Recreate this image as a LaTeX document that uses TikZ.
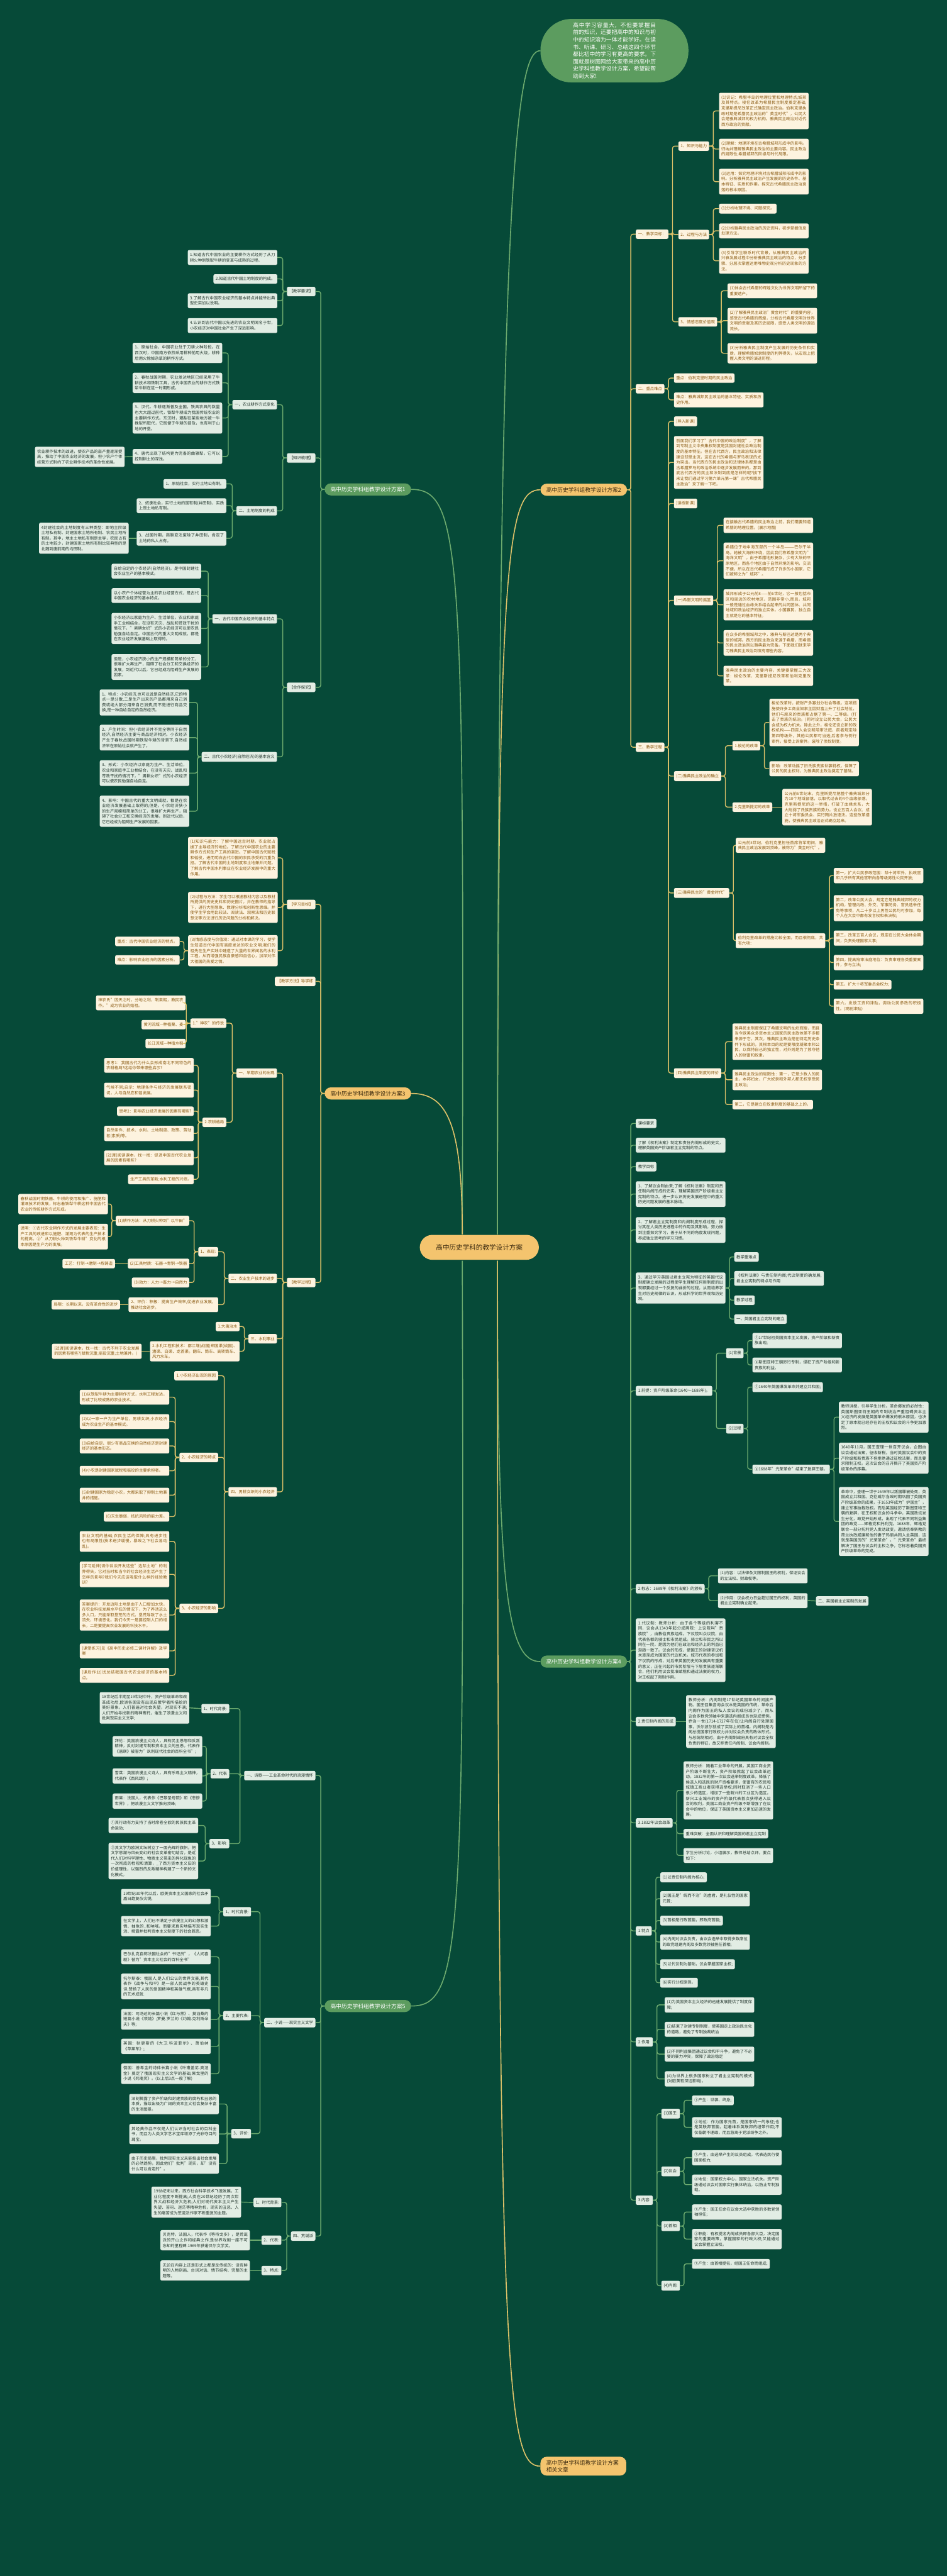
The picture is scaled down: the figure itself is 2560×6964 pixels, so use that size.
\documentclass[tikz,border=0pt]{standalone}
\usepackage{fontspec}
\usetikzlibrary{shadows}
\setmainfont{Noto Sans CJK SC}
\XeTeXlinebreaklocale "zh"
\XeTeXlinebreakskip=0pt plus 0.6pt
\definecolor{bgcol}{HTML}{064A38}
\definecolor{creamfill}{HTML}{FDF3DF}
\definecolor{creamtext}{HTML}{8A5A12}
\definecolor{yelline}{HTML}{DCC169}
\definecolor{sagefill}{HTML}{E2EDE4}
\definecolor{sagetext}{HTML}{22352C}
\definecolor{grnline}{HTML}{6CAA6E}
\definecolor{hubgreen}{HTML}{5C9C5F}
\definecolor{huborange}{HTML}{F4C46E}
\definecolor{hubotext}{HTML}{3B2A10}
\newcommand\leaffont{\fontsize{7.7}{10.4}\selectfont}
\newcommand\hubfont{\fontsize{10.6}{13}\selectfont}
\tikzset{
  box/.style={rounded corners=0.1cm, inner xsep=0.15cm, inner ysep=0.19cm, font=\leaffont,
    drop shadow={opacity=0.3, shadow xshift=0.3pt, shadow yshift=-0.9pt}},
  cream/.style={box, fill=creamfill, text=creamtext},
  sage/.style={box, fill=sagefill, text=sagetext},
  wide/.style={text width=5.75cm, align=justify},
  lineY/.style={draw=yelline, line width=0.06cm, rounded corners=0.15cm},
  lineG/.style={draw=grnline, line width=0.06cm, rounded corners=0.15cm},
  hubG/.style={fill=hubgreen, text=white, rounded corners=0.42cm, inner xsep=0.4cm, inner ysep=6.7pt, font=\hubfont},
  hubO/.style={fill=huborange, text=hubotext, rounded corners=0.42cm, inner xsep=0.4cm, inner ysep=6.7pt, font=\hubfont},
}
\begin{document}
\begin{tikzpicture}[x=0.025cm, y=-0.025cm]
\fill[bgcol] (0,0) rectangle (2560,6964);
\useasboundingbox (0,0) rectangle (2560,6964);

\node[fill=huborange, text=hubotext, rounded corners=0.85cm, inner xsep=1.1cm, inner ysep=18pt, font=\fontsize{12.8}{15}\selectfont] (ctr) at (1296,3372) {高中历史学科的教学设计方案};
\node[fill=hubgreen, text=white, rounded corners=2.1cm, inner xsep=2.2cm, inner ysep=0.25cm, text width=5.6cm, align=justify, font=\fontsize{10.6}{14}\selectfont, anchor=west] (intro) at (1461,137) {高中学习容量大，不但要掌握目前的知识，还要把高中的知识与初中的知识溶为一体才能学好。在读书、听课、研习、总结这四个环节都比初中的学习有更高的要求。下面就是树图网给大家带来的高中历史学科组教学设计方案，希望能帮助到大家!};

\node[hubG, anchor=east] (b1) at (1112,1323) {高中历史学科组教学设计方案1};
\node[hubO, anchor=west] (b2) at (1461,1324) {高中历史学科组教学设计方案2};
\node[hubO, anchor=east] (b3) at (1112,2956) {高中历史学科组教学设计方案3};
\node[hubG, anchor=west] (b4) at (1461,4492) {高中历史学科组教学设计方案4};
\node[hubG, anchor=east] (b5) at (1112,5423) {高中历史学科组教学设计方案5};
\node[hubO, anchor=west, text width=5cm, align=left] (b6) at (1461,6667) {高中历史学科组教学设计方案相关文章};

\draw[grnline, line width=0.07cm] (1250,3337) .. controls (1255,1500) and (1250,1323) .. (b1.east);
\draw[yelline, line width=0.07cm] (1250,3337) .. controls (1250,3040) and (1210,2956) .. (b3.east);
\draw[grnline, line width=0.07cm] (1250,3408) .. controls (1255,5250) and (1250,5423) .. (b5.east);
\draw[yelline, line width=0.07cm] (1345,3337) .. controls (1345,1500) and (1370,1324) .. (b2.west);
\draw[grnline, line width=0.07cm] (1345,3337) .. controls (1345,400) and (1400,137) .. (intro.west);
\draw[grnline, line width=0.07cm] (1345,3408) .. controls (1345,4300) and (1370,4492) .. (b4.west);
\draw[yelline, line width=0.07cm] (1345,3408) .. controls (1345,6450) and (1370,6667) .. (b6.west);

% 方案2
\node[cream, anchor=west] (b2a) at (1719,633) {一、教学目标：};
\node[cream, anchor=west] (b2b) at (1719,1051) {二、重点难点};
\node[cream, anchor=west] (b2c) at (1719,2020) {三、教学过程};
\node[cream, anchor=west] (b2a1) at (1834,395) {1、知识与能力};
\node[cream, anchor=west] (b2a2) at (1834,634) {2、过程与方法};
\node[cream, anchor=west] (b2a3) at (1834,870) {3、情感态度价值观};
\node[cream, wide, anchor=west] (b2a1a) at (1944,300) {(1)识记：希腊半岛的地理位置和地理特点;城邦及其特点。梭伦改革为希腊民主制度奠定基础;克里斯提尼改革正式确定民主政治。伯利克里执政时期是希腊民主政治的"黄金时代"，公民大会是雅典城邦的权力机构。雅典民主政治对近代西方政治的贡献。};
\node[cream, wide, anchor=west] (b2a1b) at (1944,403) {(2)理解：地理环境在古希腊城邦形成中的影响。归纳并理解雅典民主政治的主要内容。民主政治的局限性;希腊城邦的阶级与时代局限。};
\node[cream, wide, anchor=west] (b2a1c) at (1944,491) {(3)运用：探究地理环境对古希腊城邦形成中的影响。分析雅典民主政治产生发展的历史条件、基本特征、实质和作用。探究古代希腊民主政治衰落的根本原因。};
\node[cream, anchor=west] (b2a2a) at (1944,564) {(1)分析地理环境、问题探究。};
\node[cream, wide, anchor=west] (b2a2b) at (1944,624) {(2)分析雅典民主政治的历史资料，初步掌握信息处理方法。};
\node[cream, wide, anchor=west] (b2a2c) at (1944,705) {(3)引导学生联系时代背景，从雅典民主政治的兴衰发展过程中分析雅典民主政治的特点，分步骤、分层次掌握运用唯物史观分析历史现象的方法。};
\node[cream, wide, anchor=west] (b2a3a) at (1967,786) {(1)体会古代希腊的辉煌文化为世界文明所留下的重要遗产。};
\node[cream, wide, anchor=west] (b2a3b) at (1967,867) {(2)了解雅典民主政治"黄金时代"的重要内容，感受古代希腊的辉煌，分析古代希腊文明对世界文明的贡献及其历史局限，感受人类文明的源远流长。};
\node[cream, wide, anchor=west] (b2a3c) at (1967,955) {(3)分析雅典民主制度产生发展的历史条件和实质，理解希腊奴隶制度的利弊得失，从宏观上把握人类文明的演进历程。};
\node[cream, anchor=west] (b2b1) at (1822,1022) {重点：伯利克里时期的民主政治};
\node[cream, wide, anchor=west] (b2b2) at (1822,1081) {难点：雅典城邦民主政治的基本特征、实质和历史作用。};
\node[cream, anchor=west] (b2c1) at (1822,1139) {[导入新课]};
\node[cream, wide, anchor=west] (b2c2) at (1822,1250) {前面我们学习了"古代中国的政治制度"，了解到专制主义中央集权制度是我国封建社会政治制度的基本特征。但在古代西方，民主政治和法律建设却是主流，这在古代的希腊与罗马表现的尤为突出。当代西方的民主政治和法律体系都是由古希腊罗马的政治系统中逐步发展而来的。那到底古代西方的民主和法制到底是怎样的呢?接下来让我们通过学习第六单元第一课"古代希腊民主政治"来了解一下吧。};
\node[cream, anchor=west] (b2c3) at (1822,1361) {[讲授新课]};
\node[cream, anchor=west] (b2c4) at (1822,1623) {(一)希腊文明的摇篮};
\node[cream, anchor=west] (b2c5) at (1822,2098) {(二)雅典民主政治的确立};
\node[cream, anchor=west] (b2c6) at (1822,2414) {(三)雅典民主的"黄金时代"};
\node[cream, anchor=west] (b2c7) at (1822,2901) {(四)雅典民主制度的评价};
\node[cream, wide, anchor=west] (b2c4a) at (1956,1420) {在接触古代希腊的民主政治之前，我们需要知道希腊的地理位置。(展示地图)};
\node[cream, wide, anchor=west] (b2c4b) at (1956,1516) {希腊位于地中海东部的一个半岛---------巴尔干半岛。她被大海所环绕，因此我们称希腊文明为"海洋文明"。由于希腊地形复杂，少有大块的平原地区，而各个地区由于自然环境的影响，交流不便，所以在古代希腊形成了许多的小国家，它们被称之为"城邦"。};
\node[cream, wide, anchor=west] (b2c4c) at (1956,1635) {城邦形成于公元前8——前6世纪，它一般包括市区和周边的农村地区，范围非常小,而且，城邦一般是通过血缘关系结合起来的共同团体、共同地域和政治经济的独立实体。小国寡民、独立自主就是它的基本特征。};
\node[cream, wide, anchor=west] (b2c4d) at (1956,1738) {在众多的希腊城邦之中，雅典与斯巴达是两个典型的城邦。西方的民主政治来源于希腊，而希腊的民主政治则以雅典最为完备。下面我们就来学习雅典民主政治到底有哪些内容。};
\node[cream, wide, anchor=west] (b2c4e) at (1956,1827) {雅典民主政治的主要内容，关键要掌握三大改革：梭伦改革、克里斯提尼改革和伯利克里改革。};
\node[cream, anchor=west] (b2c5a) at (1980,2016) {1.梭伦的改革};
\node[cream, anchor=west] (b2c5b) at (1980,2182) {2.克里斯提尼的改革};
\node[cream, wide, anchor=west] (b2c5a1) at (2080,1953) {梭伦改革时，按财产多寡划分社会等级。这项措施使许多工商业奴隶主因财富上升了社会地位，他们与原来的贵族都占据了第一、二等级。(打击了贵族的统治。)同时设立公民大会，公民大会成为权力机关。除此之外，梭伦还设立新的政权机构——四百人会议和陪审法庭，前者规定除第四等级外，其他公民都可当选;后者参与例行审判，接受上诉案件。废除了债奴制度。};
\node[cream, wide, anchor=west] (b2c5a2) at (2080,2078) {影响：改革动摇了旧氏族贵族世袭特权，保障了公民的民主权利，为雅典民主政治奠定了基础。};
\node[cream, wide, anchor=west] (b2c5b1) at (2115,2182) {公元前6世纪末，克里斯提尼把整个雅典城邦分为10个地域部落，以取代过去的4个血缘部落。克里斯提尼的这一举措，打破了血缘关系，大大削弱了氏族贵族的势力。设立五百人会议、成立十将军委员会、实行陶片放逐法。这些改革措施，使雅典民主政治正式确立起来。};
\node[cream, wide, anchor=west] (b2c6a) at (1989,2285) {公元前5世纪，伯利克里担任首席将军期间，雅典民主政治发展到顶峰，被称为"黄金时代"。};
\node[cream, wide, anchor=west] (b2c6b) at (1989,2543) {伯利克里改革的措施比较全面，而且很彻底，共有六项：};
\node[cream, wide, anchor=west] (b2c6b1) at (2254,2367) {第一，扩大公民参政范围：除十将军外，执政官和几乎所有其他官职向各等级男性公民开放;};
\node[cream, wide, anchor=west] (b2c6b2) at (2254,2455) {第二，改革公民大会，规定它是雅典城邦的权力机构，管理内政、外交、军事防务、官员选举任免等事项，凡二十岁以上男性公民均可参加，每个人在大会中都有发言权和表决权;};
\node[cream, wide, anchor=west] (b2c6b3) at (2254,2536) {第三，改革五百人会议，规定在公民大会休会期间，负责处理国家大事;};
\node[cream, wide, anchor=west] (b2c6b4) at (2254,2602) {第四，提高陪审法庭地位：负责审理各类重要案件，参与立法;};
\node[cream, anchor=west] (b2c6b5) at (2254,2662) {第五，扩大十将军委员会权力;};
\node[cream, wide, anchor=west] (b2c6b6) at (2254,2720) {第六，发放工资和津贴，调动公民参政的积极性。(观剧津贴)};
\node[cream, wide, anchor=west] (b2c7a) at (1980,2816) {雅典民主制度保证了希腊文明的灿烂辉煌，而且当今欧美众多资本主义国家的民主政体差不多都来源于它。其次，雅典民主政治是在特定历史条件下形成的，其根本目的就是要限度凝聚本邦公民，以保持自己的独立性，对外则是为了掠夺他人的财富和奴隶。};
\node[cream, wide, anchor=west] (b2c7b) at (1980,2919) {雅典民主政治的局限性：第一，它是少数人的民主，本邦妇女、广大奴隶和外邦人都无权享受民主政治;};
\node[cream, anchor=west] (b2c7c) at (1980,2986) {第二，它是建立在奴隶制度的基础之上的。};

\foreach \c in {b2a,b2b,b2c} \draw[lineY] (b2.east) -- ++(10,0) |- (\c.west);
\foreach \c in {b2a1,b2a2,b2a3} \draw[lineY] (b2a.east) -- ++(11,0) |- (\c.west);
\foreach \c in {b2a1a,b2a1b,b2a1c} \draw[lineY] (b2a1.east) -- ++(11,0) |- (\c.west);
\foreach \c in {b2a2a,b2a2b,b2a2c} \draw[lineY] (b2a2.east) -- ++(11,0) |- (\c.west);
\foreach \c in {b2a3a,b2a3b,b2a3c} \draw[lineY] (b2a3.east) -- ++(11,0) |- (\c.west);
\foreach \c in {b2b1,b2b2} \draw[lineY] (b2b.east) -- ++(11,0) |- (\c.west);
\foreach \c in {b2c1,b2c2,b2c3,b2c4,b2c5,b2c6,b2c7} \draw[lineY] (b2c.east) -- ++(11,0) |- (\c.west);
\foreach \c in {b2c4a,b2c4b,b2c4c,b2c4d,b2c4e} \draw[lineY] (b2c4.east) -- ++(11,0) |- (\c.west);
\foreach \c in {b2c5a,b2c5b} \draw[lineY] (b2c5.east) -- ++(11,0) |- (\c.west);
\foreach \c in {b2c5a1,b2c5a2} \draw[lineY] (b2c5a.east) -- ++(11,0) |- (\c.west);
\draw[lineY] (b2c5b.east) -- (b2c5b1.west);
\foreach \c in {b2c6a,b2c6b} \draw[lineY] (b2c6.east) -- ++(11,0) |- (\c.west);
\foreach \c in {b2c6b1,b2c6b2,b2c6b3,b2c6b4,b2c6b5,b2c6b6} \draw[lineY] (b2c6b.east) -- ++(11,0) |- (\c.west);
\foreach \c in {b2c7a,b2c7b,b2c7c} \draw[lineY] (b2c7.east) -- ++(11,0) |- (\c.west);

% 方案1
\node[sage, anchor=east] (b1a) at (853,788) {【教学要求】};
\node[sage, anchor=east] (b1b) at (853,1238) {【知识梳理】};
\node[sage, anchor=east] (b1c) at (853,1858) {【合作探究】};
\node[sage, wide, anchor=east] (b1a1) at (750,696) {1.知道古代中国农业的主要耕作方式经历了从刀耕火种到铁犁牛耕的变革与成熟的过程。};
\node[sage, anchor=east] (b1a2) at (750,754) {2.知道古代中国土地制度的构成。};
\node[sage, wide, anchor=east] (b1a3) at (750,813) {3.了解古代中国农业经济的基本特点并能举出典型史实加以说明。};
\node[sage, wide, anchor=east] (b1a4) at (750,880) {4.认识到古代中国以先进的农业文明闻名于世，小农经济对中国社会产生了深远影响。};
\node[sage, anchor=east] (b1b1) at (749,1094) {一、农业耕作方式变化};
\node[sage, anchor=east] (b1b2) at (749,1381) {二、土地制度的构成};
\node[sage, wide, anchor=east] (b1b1a) at (601,954) {1、原始社会，中国农业处于刀耕火种阶段。在西汉时，中国南方依然采用耕种前用火烧，耕种后用火除掉杂草的耕作方式。};
\node[sage, wide, anchor=east] (b1b1b) at (601,1035) {2、春秋战国时期，农业发达地区已经采用了牛耕技术和铁制工具，古代中国农业的耕作方式铁犁牛耕在这一时期形成。};
\node[sage, wide, anchor=east] (b1b1c) at (601,1130) {3、汉代，牛耕逐渐普及全国，铁具农具的数量也大大超过前代，铁犁牛耕成为我国传统农业的主要耕作方式。东汉时，耦犁在某些地方被一牛挽犁所取代，它既便于牛耕的普及，也有利于山地的开垦。};
\node[sage, wide, anchor=east] (b1b1d) at (601,1234) {4、唐代出现了结构更为完备的曲辕犁，它可以控制耕土的深浅。};
\node[sage, wide, anchor=east] (b1b1d1) at (337,1235) {农业耕作技术的改进，使农产品的亩产量逐渐提高，推动了中国农业经济的发展。但小农户个体经营方式制约了农业耕作技术的革命性发展。};
\node[sage, anchor=east] (b1b2a) at (612,1308) {1、原始社会，实行土地公有制。};
\node[sage, wide, anchor=east] (b1b2b) at (612,1367) {2、奴隶社会，实行土地的国有制(井田制)，实质上是土地私有制。};
\node[sage, wide, anchor=east] (b1b2c) at (612,1455) {3、战国时期，商鞅变法废除了井田制，肯定了土地的私人占有。};
\node[sage, wide, anchor=east] (b1b2c1) at (348,1455) {4封建社会的土地制度有三种类型：即地主阶级土地私有制、封建国家土地所有制、农民土地所有制。其中，地主土地私有制是主导，农民占有的土地较少，封建国家土地所有制比较典型的是北魏到唐前期的均田制。};
\node[sage, anchor=east] (b1c1) at (749,1673) {一、古代中国农业经济的基本特点};
\node[sage, anchor=east] (b1c2) at (749,2046) {二、古代小农经济(自然经济)的基本含义};
\node[sage, wide, anchor=east] (b1c1a) at (544,1544) {自给自足的小农经济(自然经济)，是中国封建社会农业生产的基本模式。};
\node[sage, wide, anchor=east] (b1c1b) at (544,1610) {以小农户个体经营为主的农业经营方式，是古代中国农业经济的基本特点。};
\node[sage, wide, anchor=east] (b1c1c) at (544,1699) {小农经济以家庭为生产、生活单位，农业和家庭手工业相结合，在没有天灾、战乱和苛政干扰的情况下，"男耕女织"式的小农经济可以使农民勉强自给自足。中国古代的重大文明成就，都是在农业经济发展基础上取得的。};
\node[sage, wide, anchor=east] (b1c1d) at (544,1803) {但是，小农经济狭小的生产规模和简单的分工，很难扩大再生产，阻碍了社会分工和交换经济的发展，到近代以后，它已经成为阻碍生产发展的因素。};
\node[sage, wide, anchor=east] (b1c2a) at (512,1899) {1、特点：小农经济,也可以说是自然经济,它的特点一是分散,二是生产出来的产品都用来自己消费或绝大部分用来自己消费,而不是进行商品交换,是一种自给自足的自然经济。};
\node[sage, wide, anchor=east] (b1c2b) at (512,1994) {2、产生时间：但小农经济并不完全等同于自然经济,自然经济主要与商品经济相对。小农经济产生于春秋战国时期铁犁牛耕的背景下,自然经济早在原始社会就产生了。};
\node[sage, wide, anchor=east] (b1c2c) at (512,2090) {3、形式：小农经济以家庭为生产、生活单位，农业和家庭手工业相结合，在没有天灾、战乱和苛政干扰的情况下，"男耕女织"式的小农经济可以使农民勉强自给自足。};
\node[sage, wide, anchor=east] (b1c2d) at (512,2193) {4、影响：中国古代的重大文明成就，都是在农业经济发展基础上取得的;但是，小农经济狭小的生产规模和简单的分工，很难扩大再生产，阻碍了社会分工和交换经济的发展，到近代以后，它已经成为阻碍生产发展的因素。};

\foreach \c in {b1a,b1b,b1c} \draw[lineG] (b1.west) -- ++(-10,0) |- (\c.east);
\foreach \c in {b1a1,b1a2,b1a3,b1a4} \draw[lineG] (b1a.west) -- ++(-11,0) |- (\c.east);
\foreach \c in {b1b1,b1b2} \draw[lineG] (b1b.west) -- ++(-11,0) |- (\c.east);
\foreach \c in {b1b1a,b1b1b,b1b1c,b1b1d} \draw[lineG] (b1b1.west) -- ++(-11,0) |- (\c.east);
\draw[lineG] (b1b1d.west) -- (b1b1d1.east);
\foreach \c in {b1b2a,b1b2b,b1b2c} \draw[lineG] (b1b2.west) -- ++(-11,0) |- (\c.east);
\draw[lineG] (b1b2c.west) -- (b1b2c1.east);
\foreach \c in {b1c1,b1c2} \draw[lineG] (b1c.west) -- ++(-11,0) |- (\c.east);
\foreach \c in {b1c1a,b1c1b,b1c1c,b1c1d} \draw[lineG] (b1c1.west) -- ++(-11,0) |- (\c.east);
\foreach \c in {b1c2a,b1c2b,b1c2c,b1c2d} \draw[lineG] (b1c2.west) -- ++(-11,0) |- (\c.east);

% 方案3
\node[cream, anchor=east] (b3a) at (853,2445) {【学习目标】};
\node[cream, anchor=east] (b3b) at (853,2653) {【教学方法】导学练};
\node[cream, anchor=east] (b3c) at (853,3467) {【教学过程】};
\node[cream, wide, anchor=east] (b3a1) at (751,2319) {(1)知识与能力：了解中国远古时期，农业就占据了主导经济的地位。了解古代中国农业的主要耕作方式和生产工具的演进。了解中国古代赋税和徭役，进而明白古代中国的农民承受的沉重负担。了解古代中国的土地制度和土地兼并问题。了解古代中国水利事业在农业经济发展中的重大作用。};
\node[cream, wide, anchor=east] (b3a2) at (751,2453) {(2)过程与方法：学生可以根据教材内容以及教材所提供的历史史料和历史图片，并在教师的指导下，进行大胆想象、数理分析和创新性思维。并使学生学会用比较法、阅读法、观察法和历史联想法等方法进行历史问题的分析和解决。};
\node[cream, wide, anchor=east] (b3a3) at (751,2570) {(3)情感态度与价值观：通过对本课的学习，使学生知道古代中国有高度发达的农业文明;我们的祖先在生产实践中建造了大量的世界闻名的水利工程，从而增强民族自豪感和自信心，加深对伟大祖国的热爱之情。};
\node[cream, anchor=east] (b3a3a) at (486,2545) {重点：古代中国农业经济的特点。};
\node[cream, anchor=east] (b3a3b) at (486,2595) {难点：影响农业经济的因素分析。};
\node[cream, anchor=east] (b3c1) at (749,2901) {一、早期农业的出现};
\node[cream, anchor=east] (b3c2) at (749,3456) {二、农业生产技术的进步};
\node[cream, anchor=east] (b3c3) at (749,3619) {三、水利事业};
\node[cream, anchor=east] (b3c4) at (749,4033) {四、男耕女织的小农经济};
\node[cream, anchor=east] (b3c1a) at (612,2766) {1."神农"的传说};
\node[cream, anchor=east] (b3c1b) at (612,3034) {2.农耕格局};
\node[cream, wide, anchor=east] (b3c1a1) at (502,2711) {神农氏"因天之时，分地之利，制耒耜，教民农作。"成为农业的始祖。};
\node[cream, anchor=east] (b3c1a2) at (502,2770) {黄河流域—种植粟、麦};
\node[cream, anchor=east] (b3c1a3) at (502,2821) {长江流域—种植水稻};
\node[cream, wide, anchor=east] (b3c1b1) at (524,2880) {思考1：我国古代为什么会形成南北不同特色的农耕格局?这给你带来哪些启示?};
\node[cream, wide, anchor=east] (b3c1b2) at (524,2947) {气候不同;启示：地理条件与经济的发展联系密切，人与自然应和谐发展。};
\node[cream, anchor=east] (b3c1b3) at (524,3004) {思考2：影响农业经济发展的因素有哪些?};
\node[cream, wide, anchor=east] (b3c1b4) at (524,3064) {自然条件、技术、水利、土地制度、政策、劳动者(素质)等。};
\node[cream, wide, anchor=east] (b3c1b5) at (524,3130) {[过渡]阅读课本，找一找：促进中国古代农业发展的因素有哪些?};
\node[cream, anchor=east] (b3c1b6) at (524,3188) {生产工具的革新;水利工程的兴修。};
\node[cream, anchor=east] (b3c2a) at (590,3384) {1、表现:};
\node[cream, wide, anchor=east] (b3c2b) at (590,3527) {2、评价：积极：提高生产效率,促进农业发展，推动社会进步。};
\node[cream, anchor=east] (b3c2a1) at (512,3300) {(1)耕作方法：从刀耕火种到"以牛田"};
\node[cream, anchor=east] (b3c2a2) at (512,3416) {(2)工具材质：石器→青铜→铁器};
\node[cream, anchor=east] (b3c2a3) at (512,3467) {(3)动力：人力→畜力→自然力};
\node[cream, wide, anchor=east] (b3c2a1a) at (292,3255) {春秋战国时期铁器、牛耕的使用和推广、施肥和灌溉技术的发展，标志着铁犁牛耕这种中国古代农业的传统耕作方式形成。};
\node[cream, wide, anchor=east] (b3c2a1b) at (292,3343) {说明：①古代农业耕作方式的发展主要表现：生产工具的改进和以施肥、灌溉为代表的生产技术的提高。②"从刀耕火种到铁犁牛耕"变化的根本原因是生产力的发展。};
\node[cream, anchor=east] (b3c2a2a) at (311,3416) {工艺：打制→磨制→炼铸造};
\node[cream, anchor=east] (b3c2b1) at (325,3527) {局限：长期以来，没有革命性的进步};
\node[cream, anchor=east] (b3c3a) at (648,3586) {1.大禹治水};
\node[cream, wide, anchor=east] (b3c3b) at (648,3653) {2.水利工程和技术：都江堰(战国)郑国渠(战国)、漕渠、白渠、龙首渠。翻车、筒车、高转筒车、风力水车。};
\node[cream, wide, anchor=east] (b3c3b1) at (383,3653) {[过渡]阅读课本，找一找：古代不利于农业发展的因素有哪些?(赋税沉重;徭役沉重;土地兼并。)};
\node[cream, anchor=east] (b3c4a) at (590,3719) {1.小农经济出现的原因};
\node[cream, anchor=east] (b3c4b) at (590,3940) {2、小农经济的特点};
\node[cream, anchor=east] (b3c4c) at (590,4348) {3、小农经济的影响};
\node[cream, wide, anchor=east] (b3c4b1) at (458,3777) {(1)以铁犁牛耕为主要耕作方式，水利工程发达，形成了比较成熟的农业技术。};
\node[cream, wide, anchor=east] (b3c4b2) at (458,3843) {(2)以一家一户为生产单位，男耕女织;小农经济成为农业生产的基本模式。};
\node[cream, wide, anchor=east] (b3c4b3) at (458,3909) {(3)自给自足、很少有商品交换的自然经济是封建经济的基本形态。};
\node[cream, wide, anchor=east] (b3c4b4) at (458,3976) {(4)小农是封建国家赋税和徭役的主要承担者。};
\node[cream, wide, anchor=east] (b3c4b5) at (458,4042) {(5)封建国家为稳定小农，大都采取了抑制土地兼并的措施。};
\node[cream, anchor=east] (b3c4b6) at (458,4100) {(6)天生脆弱，抵抗风险的能力差。};
\node[cream, wide, anchor=east] (b3c4c1) at (458,4167) {农业文明的基础;农民生活的保障;具有进步性也有局限性(技术进步缓慢，暴政之下社会易动乱)。};
\node[cream, wide, anchor=east] (b3c4c2) at (458,4256) {[学习延伸]请你谈谈开发这些"边际土地"的利弊得失，它对当时和当今的社会经济生活产生了怎样的影响?我们今天应该吸取什么样的经验教训?};
\node[cream, wide, anchor=east] (b3c4c3) at (458,4366) {答案提示：开发边际土地是由于人口增加太快，在农业科技发展水平低的情况下，为了养活这么多人口，只能采取垦荒的方式。垦荒导致了水土流失、环境恶化。我们今天一是要控制人口的增长，二是要提高农业发展的科技水平。};
\node[cream, wide, anchor=east] (b3c4c4) at (458,4463) {[课堂练习]见《高中历史必修二课时详解》及学案};
\node[cream, wide, anchor=east] (b3c4c5) at (458,4529) {[课后作业]试总结我国古代农业经济的基本特点。};

\foreach \c in {b3a,b3b,b3c} \draw[lineY] (b3.west) -- ++(-10,0) |- (\c.east);
\foreach \c in {b3a1,b3a2,b3a3} \draw[lineY] (b3a.west) -- ++(-11,0) |- (\c.east);
\foreach \c in {b3a3a,b3a3b} \draw[lineY] (b3a3.west) -- ++(-11,0) |- (\c.east);
\foreach \c in {b3c1,b3c2,b3c3,b3c4} \draw[lineY] (b3c.west) -- ++(-11,0) |- (\c.east);
\foreach \c in {b3c1a,b3c1b} \draw[lineY] (b3c1.west) -- ++(-11,0) |- (\c.east);
\foreach \c in {b3c1a1,b3c1a2,b3c1a3} \draw[lineY] (b3c1a.west) -- ++(-11,0) |- (\c.east);
\foreach \c in {b3c1b1,b3c1b2,b3c1b3,b3c1b4,b3c1b5,b3c1b6} \draw[lineY] (b3c1b.west) -- ++(-11,0) |- (\c.east);
\foreach \c in {b3c2a,b3c2b} \draw[lineY] (b3c2.west) -- ++(-11,0) |- (\c.east);
\foreach \c in {b3c2a1,b3c2a2,b3c2a3} \draw[lineY] (b3c2a.west) -- ++(-11,0) |- (\c.east);
\foreach \c in {b3c2a1a,b3c2a1b} \draw[lineY] (b3c2a1.west) -- ++(-11,0) |- (\c.east);
\draw[lineY] (b3c2a2.west) -- (b3c2a2a.east);
\draw[lineY] (b3c2b.west) -- (b3c2b1.east);
\foreach \c in {b3c3a,b3c3b} \draw[lineY] (b3c3.west) -- ++(-11,0) |- (\c.east);
\draw[lineY] (b3c3b.west) -- (b3c3b1.east);
\foreach \c in {b3c4a,b3c4b,b3c4c} \draw[lineY] (b3c4.west) -- ++(-11,0) |- (\c.east);
\foreach \c in {b3c4b1,b3c4b2,b3c4b3,b3c4b4,b3c4b5,b3c4b6} \draw[lineY] (b3c4b.west) -- ++(-11,0) |- (\c.east);
\foreach \c in {b3c4c1,b3c4c2,b3c4c3,b3c4c4,b3c4c5} \draw[lineY] (b3c4c.west) -- ++(-11,0) |- (\c.east);

% 方案5
\node[sage, anchor=east] (b5a) at (853,4800) {一、诗歌——工业革命时代的浪漫情怀};
\node[sage, anchor=east] (b5b) at (853,5468) {二、小说——现实主义文学};
\node[sage, anchor=east] (b5c) at (853,6045) {四、荒诞派};
\node[sage, anchor=east] (b5a1) at (620,4619) {1、时代背景:};
\node[sage, anchor=east] (b5a2) at (620,4795) {2、代表};
\node[sage, anchor=east] (b5a3) at (620,4984) {3、影响:};
\node[sage, wide, anchor=east] (b5a1a) at (512,4617) {18世纪后半期至19世纪中叶，资产阶级革命和改革成功后,欧洲各国没有出现启蒙学者所描绘的美好景象，人们普遍对社会失望，对现实不满;人们开始寻找新的精神寄托，催生了浪漫主义和批判现实主义文学;};
\node[sage, wide, anchor=east] (b5a2a) at (547,4721) {拜伦：英国浪漫主义诗人，具有民主思想和反叛精神，反对封建专制和资本主义的丑恶。代表作《唐璜》被誉为"讽刺现代社会的百科全书";};
\node[sage, wide, anchor=east] (b5a2b) at (547,4801) {雪莱：英国浪漫主义诗人，具有乐观主义精神，代表作《西风颂》;};
\node[sage, wide, anchor=east] (b5a2c) at (547,4869) {雨果：法国人，代表作《巴黎圣母院》和《悲惨世界》，把浪漫主义文学推向顶峰;};
\node[sage, wide, anchor=east] (b5a3a) at (536,4935) {①其行动有力支持了当时席卷全欧的民族民主革命运动;};
\node[sage, wide, anchor=east] (b5a3b) at (536,5031) {②其文学为欧洲文坛树立了一面光辉的旗帜。把文学思潮与风云变幻的社会变革密切结合，是近代人们对科学理性、物质主义带来的异化现象的一次彻底的检视和清算，\_了西方资本主义旧的价值理性，以强烈的反叛精神构建了一个新的文化模式。};
\node[sage, anchor=east] (b5b1) at (679,5168) {1、时代背景:};
\node[sage, anchor=east] (b5b2) at (679,5449) {2、主要代表:};
\node[sage, anchor=east] (b5b3) at (679,5768) {3、评价:};
\node[sage, wide, anchor=east] (b5b1a) at (570,5127) {19世纪30年代以后，欧美资本主义国家的社会矛盾日趋复杂尖锐;};
\node[sage, wide, anchor=east] (b5b1b) at (570,5207) {在文学上，人们已不满足于浪漫主义的幻想和激情、抽象的\_和呐喊，而要求真实地描写现实生活、揭露并批判资本主义制度下的社会罪恶。};
\node[sage, wide, anchor=east] (b5b2a) at (570,5290) {巴尔扎克自称法国社会的"书记员"，《人间喜剧》誉为"资本主义社会的百科全书"};
\node[sage, wide, anchor=east] (b5b2b) at (570,5370) {托尔斯泰：俄国人,是人们公认的世界文豪,其代表作《战争与和平》是一部人民战争的英雄史诗,赞扬了人民的爱国精神和英雄气概,具有非凡的艺术成就.};
\node[sage, wide, anchor=east] (b5b2c) at (570,5459) {法国：司汤达的长篇小说《红与黑》、莫泊桑的短篇小说《项链》;罗曼.罗兰的《约翰.克利斯朵夫》等;};
\node[sage, wide, anchor=east] (b5b2d) at (570,5532) {英国：狄更斯的《大卫.科波菲尔》、萧伯纳《苹果车》;};
\node[sage, wide, anchor=east] (b5b2e) at (570,5606) {俄国：普希金的诗体长篇小说《叶甫盖尼.奥涅金》奠定了俄国现实主义文学的基础;果戈里的小说《死魂灵》。(以上后3点一般了解)};
\node[sage, wide, anchor=east] (b5b3a) at (592,5688) {深刻揭露了资产阶级和封建贵族的腐朽和丑恶的本质，描绘出极为广阔的资本主义社会复杂丰富的生活图景。};
\node[sage, wide, anchor=east] (b5b3b) at (592,5769) {其经典作品不仅是人们认识当时社会的百科全书，而且为人类文学艺术宝库增添了光彩夺目的瑰宝。};
\node[sage, wide, anchor=east] (b5b3c) at (592,5849) {由于历史局限，批判现实主义未能指出社会发展的必然趋势，因此他们"批判"现实，却"没有什么可以肯定的"。};
\node[sage, anchor=east] (b5c1) at (761,5954) {1、时代背景:};
\node[sage, anchor=east] (b5c2) at (761,6056) {2、代表:};
\node[sage, anchor=east] (b5c3) at (761,6138) {3、特点:};
\node[sage, wide, anchor=east] (b5c1a) at (652,5953) {19世纪末以来，西方社会科学技术飞速发展，工业化程度不断提高;人类在20世纪经历了两次世界大战和经济大危机;人们对现代资本主义产生失望、苦闷、迷茫等精神危机，现实的丑恶、人生的痛苦成为荒诞派作家不断重复的主题。};
\node[sage, wide, anchor=east] (b5c2a) at (676,6056) {贝克特，法国人，代表作《等待戈多》，是荒诞派的开山之作和经典之作,是世界戏剧一座不可忘却的里程碑.1969年获诺贝尔文学奖。};
\node[sage, wide, anchor=east] (b5c3a) at (676,6138) {无论在内容上还是形式上都是反传统的：没有鲜明的人物刻画、台词对话、情节结构、完整的主题等。};

\foreach \c in {b5a,b5b,b5c} \draw[lineG] (b5.west) -- ++(-10,0) |- (\c.east);
\foreach \c in {b5a1,b5a2,b5a3} \draw[lineG] (b5a.west) -- ++(-11,0) |- (\c.east);
\draw[lineG] (b5a1.west) -- (b5a1a.east);
\foreach \c in {b5a2a,b5a2b,b5a2c} \draw[lineG] (b5a2.west) -- ++(-11,0) |- (\c.east);
\foreach \c in {b5a3a,b5a3b} \draw[lineG] (b5a3.west) -- ++(-11,0) |- (\c.east);
\foreach \c in {b5b1,b5b2,b5b3} \draw[lineG] (b5b.west) -- ++(-11,0) |- (\c.east);
\foreach \c in {b5b1a,b5b1b} \draw[lineG] (b5b1.west) -- ++(-11,0) |- (\c.east);
\foreach \c in {b5b2a,b5b2b,b5b2c,b5b2d,b5b2e} \draw[lineG] (b5b2.west) -- ++(-11,0) |- (\c.east);
\foreach \c in {b5b3a,b5b3b,b5b3c} \draw[lineG] (b5b3.west) -- ++(-11,0) |- (\c.east);
\foreach \c in {b5c1,b5c2,b5c3} \draw[lineG] (b5c.west) -- ++(-11,0) |- (\c.east);
\draw[lineG] (b5c1.west) -- (b5c1a.east);
\draw[lineG] (b5c2.west) -- (b5c2a.east);
\draw[lineG] (b5c3.west) -- (b5c3a.east);

% 方案4
\node[sage, anchor=west] (b4a) at (1719,3037) {课标要求};
\node[sage, wide, anchor=west] (b4b) at (1719,3096) {了解《权利法案》制定和责任内阁形成的史实，理解英国资产阶级君主立宪制的特点。};
\node[sage, anchor=west] (b4c) at (1719,3154) {教学目标};
\node[sage, wide, anchor=west] (b4d) at (1719,3228) {1、了解议会制由来;了解《权利法案》制定和责任制内阁形成的史实，理解英国资产阶级君主立宪制的特点。进一步认识历史发展进程中的重大历史问题发展的基本脉络。};
\node[sage, wide, anchor=west] (b4e) at (1719,3325) {2、了解君主立宪制度和内阁制度形成过程，探讨其在人类历史进程中的作用及其影响，努力做到注重探究学习，善于从不同的角度发现问题，养成独立思考的学习习惯。};
\node[sage, wide, anchor=west] (b4f) at (1719,3482) {3、通过学习英国以君主立宪为特征的英国代议制度确立发展的过程使学生理解任何新制度的出现都要经过一个反复的曲折的过程，从而培养学生对历史规律的认识，形成科学的世界观和历史观。};
\node[sage, anchor=west] (b4f1) at (1985,3398) {教学重难点};
\node[sage, wide, anchor=west] (b4f2) at (1985,3456) {《权利法案》与责任制内阁;代议制度的确发展;君主立宪制的特点与作用};
\node[sage, anchor=west] (b4f3) at (1985,3515) {教学过程};
\node[sage, anchor=west] (b4f4) at (1985,3566) {一、英国君主立宪制的建立};
\node[sage, anchor=west] (b4g) at (1719,3760) {1.前提：资产阶级革命(1640～1688年)。};
\node[sage, anchor=west] (b4g1) at (1963,3658) {(1)背景};
\node[sage, anchor=west] (b4g2) at (1963,3862) {(2)过程};
\node[sage, wide, anchor=west] (b4g1a) at (2034,3624) {①17世纪初英国资本主义发展，资产阶级和新贵族出现;};
\node[sage, wide, anchor=west] (b4g1b) at (2034,3690) {②斯图亚特王朝厉行专制，侵犯了资产阶级和新贵族的利益。};
\node[sage, anchor=west] (b4g2a) at (2034,3750) {①1640年英国爆发革命并建立共和国;};
\node[sage, anchor=west] (b4g2b) at (2034,3972) {②1688年"光荣革命"结束了复辟王朝。};
\node[sage, wide, anchor=west] (b4g2b1) at (2268,3831) {教师讲授，引导学生分析。革命爆发的必然性：英国斯图亚特王朝的专制统治严重阻碍资本主义经济的发展是英国革命爆发的根本原因，也决定了原本就已经存在的王权和议会的斗争更加激烈。};
\node[sage, wide, anchor=west] (b4g2b2) at (2268,3942) {1640年11月，国王查理一世召开议会，企图由议会通过法案，征收新税。当时英国议会中的资产阶级和新贵族不但拒绝通过征税法案，而且要求限制王权。这次议会的召开揭开了英国资产阶级革命的序幕。};
\node[sage, wide, anchor=west] (b4g2b3) at (2268,4113) {革命中，查理一世于1649年以叛国罪被处死，英国成立共和国。克伦威尔当政时期巩固了英国资产阶级革命的成果，于1653年成为"护国主"，建立军事独裁政权。而后英国经历了斯图亚特王朝的复辟，在王权和议会的斗争中，英国政坛发生分化，政党开始形成，出现了代表不同利益集团的政党——辉格党和托利党。1688年，辉格党联合一部分托利党人发动政变，邀请信奉新教的荷兰执政威廉和他的妻子玛丽共同入主英国，这就是英国历的"光荣革命"。"光荣革命"最终解决了国王与议会的主权之争，它标志着英国资产阶级革命的完成。};
\node[sage, anchor=west] (b4h) at (1719,4295) {2.标志：1689年《权利法案》的颁布};
\node[sage, wide, anchor=west] (b4h1) at (1941,4260) {(1)内容：以法律条文限制国王的权利，保证议会的立法权、财政权等。};
\node[sage, wide, anchor=west] (b4h2) at (1941,4327) {(2)作用：议会权力日益超过国王的权利，英国的君主立宪制确立起来。};
\node[sage, anchor=west] (b4h2a) at (2206,4328) {二、英国君主立宪制的发展};
\node[sage, wide, anchor=west] (b4i) at (1719,4461) {1.代议制：教师分析：由于各个等级的利害不同，议会从1343年起分成两院：上议院叫"贵族院"，由教俗贵族组成。下议院叫众议院，由代表各郡的骑士和市民组成。骑士和市民之所以同在一院，是因为他们在政治和经济上的利益已渐趋一致了。议会的形成，使国王的封建咨议机关逐渐成为国家的代议机关。城市代表的参加和下议院的形成，对后来英国历史的发展具有重要的意义，正在兴起的市民阶层与下层贵族逐渐联合，他们利用议会批准赋税和通过法案的权力，对王权起了限制作用。};
\node[sage, anchor=west] (b4j) at (1719,4654) {2.责任制内阁的形成};
\node[sage, wide, anchor=west] (b4j1) at (1855,4654) {教师分析：内阁制是17世纪英国革命的间接产物。国王召集咨询会议本是英国的传统，革命后内阁作为国王的私人会议的成份减少了，而从议会多数党领袖中来遴选内阁成员也渐成惯例。乔治一世(1714-1727年在位)让内阁自行处理国事，沃尔波尔就成了实际上的首相。内阁制是内阁总揽国家行政权力并对议会负责的政体形式。与总统制相对。由于内阁制政府具有对议会全权负责的特征，故又称责任内阁制、议会内阁制。};
\node[sage, anchor=west] (b4k) at (1719,4928) {3.1832年议会改革};
\node[sage, wide, anchor=west] (b4k1) at (1848,4840) {教师分析：随着工业革命的开展，英国工商业资产阶级不断壮大，资产阶级掀起了议会改革运动。1832年的第一次议会选举制度改革，降低了候选人和选民的财产资格要求，使富有的农民和城镇工商业者获得选举权;同时取消了一些人口很少的选区，增加了一些新兴的工业区为选区。新兴工业城市的资产阶级代表首次获得进入议会的权利。英国工商业资产阶级不断增强了在议会中的地位，保证了英国资本主义更加迅速的发展。};
\node[sage, anchor=west] (b4k2) at (1848,4957) {重难突破：全面认识和理解英国的君主立宪制};
\node[sage, wide, anchor=west] (b4k3) at (1848,5016) {学生分析讨论，小组展示，教师总结点评。要点如下：};
\node[sage, anchor=west] (b4l) at (1719,5220) {1.特点};
\node[sage, anchor=west] (b4l1) at (1785,5075) {(1)以责任制内阁为核心;};
\node[sage, wide, anchor=west] (b4l2) at (1785,5133) {(2)国王是"统而不治"的虚君，是礼仪性的国家元首;};
\node[sage, anchor=west] (b4l3) at (1785,5192) {(3)首相是行政首脑，即政府首脑;};
\node[sage, wide, anchor=west] (b4l4) at (1785,5250) {(4)内阁对议会负责，由议会选举中取得多数席位的政党组建内阁及多数党领袖担任首相;};
\node[sage, anchor=west] (b4l5) at (1785,5310) {(5)以代议制为基础，议会掌握国家主权;};
\node[sage, anchor=west] (b4l6) at (1785,5360) {(6)实行分权原则。};
\node[sage, anchor=west] (b4m) at (1719,5520) {2.作用:};
\node[sage, wide, anchor=west] (b4m1) at (1797,5420) {(1)为英国资本主义经济的迅速发展提供了制度保障;};
\node[sage, wide, anchor=west] (b4m2) at (1797,5486) {(2)结束了封建专制制度，使英国走上政治民主化的道路，避免了专制独裁统治};
\node[sage, wide, anchor=west] (b4m3) at (1797,5553) {(3)不同利益集团通过议会和平斗争，避免了不必要的暴力冲突，保障了政治稳定};
\node[sage, wide, anchor=west] (b4m4) at (1797,5620) {(4)为世界上很多国家树立了君主立宪制的模式(对欧美有深远影响)。};
\node[sage, anchor=west] (b4n) at (1719,5948) {3.内容:};
\node[sage, anchor=west] (b4n1) at (1788,5714) {(1)国王:};
\node[sage, anchor=west] (b4n2) at (1788,5870) {(2)议会:};
\node[sage, anchor=west] (b4n3) at (1788,6018) {(3)首相:};
\node[sage, anchor=west] (b4n4) at (1788,6179) {(4)内阁:};
\node[sage, anchor=west] (b4n1a) at (1871,5678) {①产生：世袭、终身;};
\node[sage, wide, anchor=west] (b4n1b) at (1871,5751) {②地位：作为国家元首，是国家统一的象征;也是英联邦首脑，起着维系英联邦的纽带作用;不仅临朝不理政，而且游离于党派纷争之外。};
\node[sage, wide, anchor=west] (b4n2a) at (1871,5833) {①产生，由选举产生的议员组成，代表选民行使国家权力;};
\node[sage, wide, anchor=west] (b4n2b) at (1871,5906) {②地位：国家权力中心，国家立法机关。资产阶级通过议会对国家实行集体统治，以防止专制独裁。};
\node[sage, wide, anchor=west] (b4n3a) at (1871,5980) {①产生：国王任命在议会大选中获胜的多数党领袖担任;};
\node[sage, wide, anchor=west] (b4n3b) at (1871,6053) {②职能：有权提名内阁成员即各部大臣，决定国家的重要政策，掌握国家的行政大权;又能通过议会掌握立法权。};
\node[sage, anchor=west] (b4n4a) at (1871,6120) {①产生：由首相提名，经国王任命而组成;};

\foreach \c in {b4a,b4b,b4c,b4d,b4e,b4f,b4g,b4h,b4i,b4j,b4k,b4l,b4m,b4n} \draw[lineG] (b4.east) -- ++(10,0) |- (\c.west);
\foreach \c in {b4f1,b4f2,b4f3,b4f4} \draw[lineG] (b4f.east) -- ++(11,0) |- (\c.west);
\foreach \c in {b4g1,b4g2} \draw[lineG] (b4g.east) -- ++(11,0) |- (\c.west);
\foreach \c in {b4g1a,b4g1b} \draw[lineG] (b4g1.east) -- ++(11,0) |- (\c.west);
\foreach \c in {b4g2a,b4g2b} \draw[lineG] (b4g2.east) -- ++(11,0) |- (\c.west);
\foreach \c in {b4g2b1,b4g2b2,b4g2b3} \draw[lineG] (b4g2b.east) -- ++(11,0) |- (\c.west);
\foreach \c in {b4h1,b4h2} \draw[lineG] (b4h.east) -- ++(11,0) |- (\c.west);
\draw[lineG] (b4h2.east) -- (b4h2a.west);
\draw[lineG] (b4j.east) -- (b4j1.west);
\foreach \c in {b4k1,b4k2,b4k3} \draw[lineG] (b4k.east) -- ++(11,0) |- (\c.west);
\foreach \c in {b4l1,b4l2,b4l3,b4l4,b4l5,b4l6} \draw[lineG] (b4l.east) -- ++(11,0) |- (\c.west);
\foreach \c in {b4m1,b4m2,b4m3,b4m4} \draw[lineG] (b4m.east) -- ++(11,0) |- (\c.west);
\foreach \c in {b4n1,b4n2,b4n3,b4n4} \draw[lineG] (b4n.east) -- ++(11,0) |- (\c.west);
\foreach \c in {b4n1a,b4n1b} \draw[lineG] (b4n1.east) -- ++(11,0) |- (\c.west);
\foreach \c in {b4n2a,b4n2b} \draw[lineG] (b4n2.east) -- ++(11,0) |- (\c.west);
\foreach \c in {b4n3a,b4n3b} \draw[lineG] (b4n3.east) -- ++(11,0) |- (\c.west);
\draw[lineG] (b4n4.east) -- ++(11,0) |- (b4n4a.west);

\end{tikzpicture}
\end{document}
